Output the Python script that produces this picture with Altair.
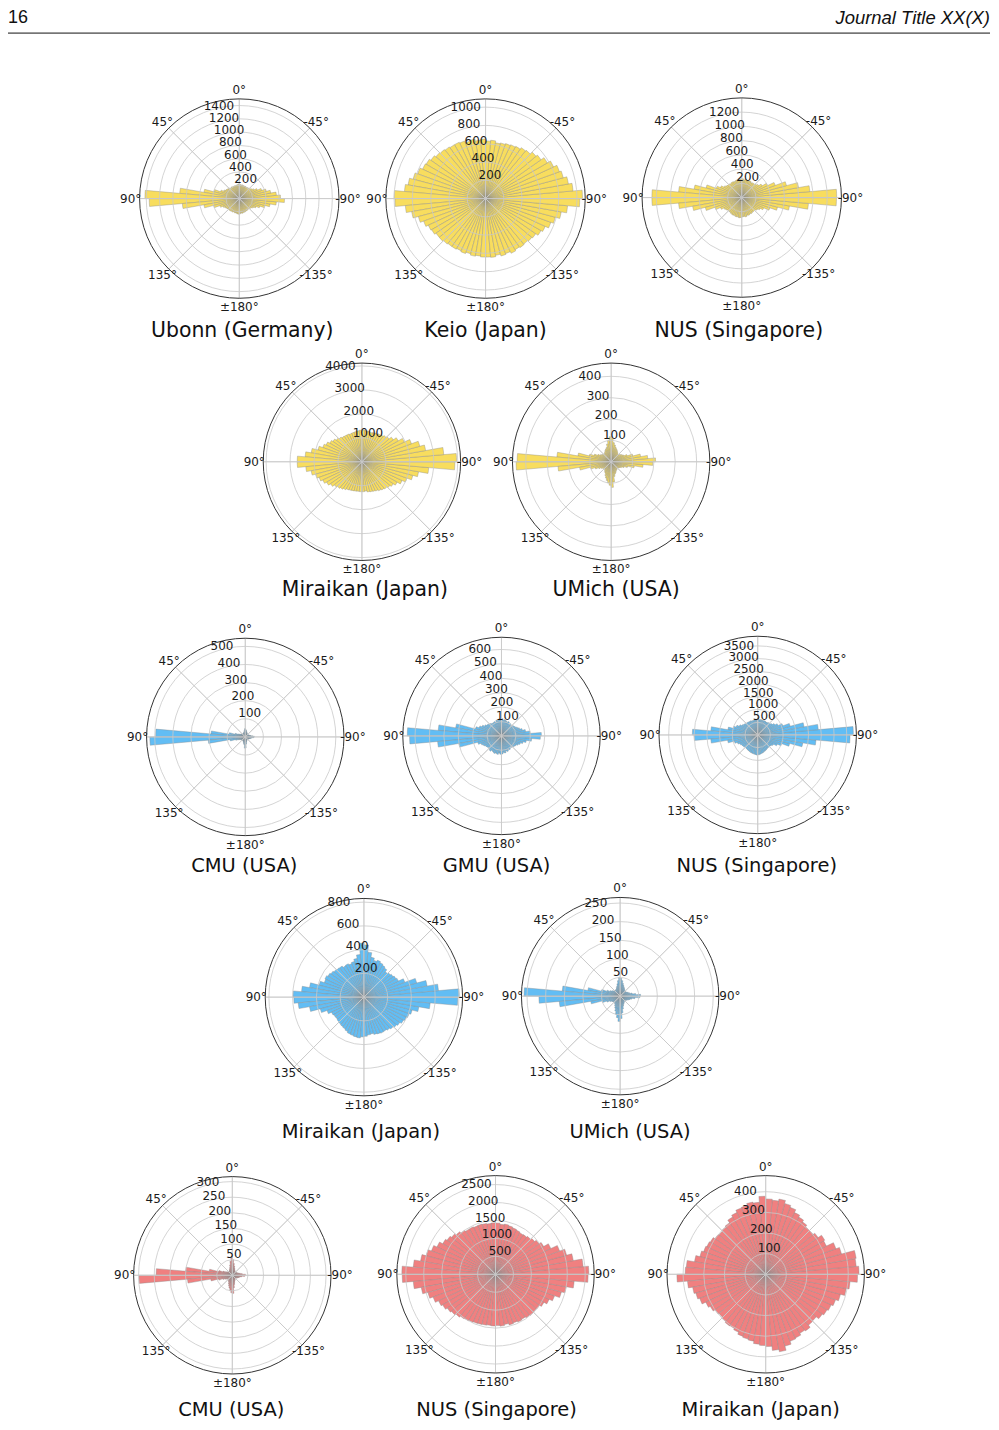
import math
import altair as alt
import pandas as pd

# ---------------- data ----------------
BIN_STARTS = list(range(-180, 180, 5))   # 72 bins of 5 degrees, angle counter-clockwise from top
BIN_W = 5

ubonn_yellow = [230,220,225,215,220,210,215,205,210,215,230,250,280,330,400,470,560,680,
                620,560,480,420,360,300,260,235,220,210,205,200,205,200,205,210,205,215,
                220,210,205,200,205,200,210,205,215,220,230,240,260,300,395,540,900,1420,
                1355,860,540,400,310,270,250,240,230,225,230,220,225,215,225,220,230,235]
keio_yellow = [640,645,630,650,640,660,645,655,650,660,670,700,720,760,790,840,900,1030,
               1060,960,920,880,860,820,780,740,720,690,680,660,650,640,630,620,640,630,
               650,640,660,650,670,680,680,690,700,710,730,750,760,790,820,860,890,1000,
               990,880,820,760,720,690,680,660,660,650,640,640,630,640,625,640,630,640]
nus_yellow = [270,265,275,260,265,255,260,250,255,260,275,300,340,420,520,680,940,1330,
              1333,960,810,650,500,400,330,290,270,260,255,250,260,250,255,260,250,265,
              260,255,250,255,245,250,255,250,255,260,270,290,330,380,520,680,890,1262,
              1262,890,700,530,400,330,290,275,265,260,265,270,275,270,280,275,285,280]
miraikan_yellow = [1250,1230,1280,1300,1320,1350,1400,1440,1480,1530,1600,1700,1850,2000,2200,2400,2800,3880,
                   3950,3430,2700,2500,2200,1950,1750,1600,1480,1430,1380,1350,1320,1300,1280,1300,1310,1330,
                   1320,1300,1280,1270,1260,1280,1290,1300,1350,1400,1480,1550,1650,1740,1900,2150,2380,2700,
                   2700,2350,2150,2000,1900,1800,1700,1600,1500,1450,1400,1350,1300,1280,1260,1250,1240,1250]
umich_yellow = [120,95,70,60,55,50,45,45,40,42,45,50,55,65,80,110,150,195,
                208,172,140,105,80,65,60,55,50,48,50,55,60,65,70,80,90,110,
                117,100,85,70,65,60,55,50,48,50,55,60,70,85,106,158,255,440,
                445,250,150,100,80,65,55,50,45,45,50,55,60,70,80,90,100,110]
cmu_blue = [60,40,30,25,22,20,20,18,20,18,20,20,22,25,28,32,38,48,
            50,40,32,28,24,22,20,20,18,18,20,20,22,25,28,32,38,44,
            46,38,30,26,24,22,22,20,22,24,25,28,32,40,58,90,190,495,
            527,205,85,55,40,32,28,25,24,22,24,25,26,28,32,38,45,62]
gmu_blue = [125,115,120,110,115,105,110,100,105,110,115,120,130,140,155,175,210,270,
            277,200,170,150,135,125,115,110,105,100,105,100,110,105,110,115,110,120,
            115,120,110,115,105,110,105,110,115,120,125,135,150,165,187,323,441,654,
            638,445,300,170,150,140,130,125,120,125,130,120,125,130,125,130,120,127]
nus_blue = [780,760,740,720,700,680,660,640,640,650,680,720,850,1000,1300,1800,2300,3630,
            3760,2390,1850,1320,1050,880,780,700,660,640,620,600,620,600,610,620,600,620,
            620,600,610,590,600,620,610,630,640,650,680,720,800,900,1000,1190,1850,2570,
            2500,1850,1200,950,850,780,740,720,700,690,700,710,720,740,750,760,770,790]
miraikan_blue = [330,320,315,325,330,335,332,340,350,360,370,385,395,405,420,470,560,790,
                 803,630,540,460,366,320,310,300,290,280,300,310,320,330,320,340,380,440,
                 455,360,330,310,300,310,305,320,323,330,340,350,362,355,390,465,527,597,
                 590,555,465,380,330,300,293,290,295,300,305,310,320,330,335,340,345,335]
umich_blue = [60,45,35,28,24,22,20,18,18,17,18,20,22,25,28,32,40,53,
              55,42,33,27,24,22,20,19,18,18,20,22,24,27,30,35,42,48,
              50,42,34,28,25,22,21,20,20,21,23,26,30,38,52,88,156,258,
              218,164,80,50,38,30,26,24,22,22,24,26,30,35,42,50,58,68]
cmu_red = [58,40,30,24,20,18,16,15,14,14,15,16,18,20,22,25,30,40,
           42,32,26,22,19,17,16,15,14,14,15,16,18,20,24,30,38,50,
           58,45,34,26,22,19,17,16,16,16,18,20,24,32,45,75,150,244,
           299,144,70,45,32,26,22,20,18,18,20,22,25,30,36,42,50,56]
nus_red = [1430,1450,1420,1460,1440,1470,1450,1480,1500,1490,1500,1560,1650,1750,1900,2000,2200,2580,
           2600,2450,2200,2050,1900,1700,1550,1480,1420,1380,1350,1340,1360,1380,1400,1420,1400,1430,
           1435,1420,1440,1450,1440,1460,1460,1500,1550,1600,1650,1700,1800,1900,2000,2120,2300,2610,
           2600,2300,2100,1950,1850,1750,1700,1640,1600,1560,1520,1500,1480,1460,1450,1440,1430,1440]
miraikan_red = [350,370,381,360,345,340,330,335,322,320,335,343,350,360,375,396,410,445,
                452,440,445,380,362,324,330,310,300,300,310,320,330,345,355,370,360,365,
                378,350,355,345,342,330,320,305,300,296,300,310,315,320,330,350,386,390,
                430,380,359,350,340,320,310,300,295,300,305,303,310,320,325,329,340,345]

titles = ["Ubonn (Germany)", "Keio (Japan)", "NUS (Singapore)", "Miraikan (Japan)", "UMich (USA)",
          "CMU (USA)", "GMU (USA)", "NUS (Singapore)", "Miraikan (Japan)", "UMich (USA)",
          "CMU (USA)", "NUS (Singapore)", "Miraikan (Japan)"]
series = [ubonn_yellow, keio_yellow, nus_yellow, miraikan_yellow, umich_yellow,
          cmu_blue, gmu_blue, nus_blue, miraikan_blue, umich_blue,
          cmu_red, nus_red, miraikan_red]
r_ticks = [[200, 400, 600, 800, 1000, 1200, 1400],
           [200, 400, 600, 800, 1000],
           [200, 400, 600, 800, 1000, 1200],
           [1000, 2000, 3000, 4000],
           [100, 200, 300, 400],
           [100, 200, 300, 400, 500],
           [100, 200, 300, 400, 500, 600],
           [500, 1000, 1500, 2000, 2500, 3000, 3500],
           [200, 400, 600, 800],
           [50, 100, 150, 200, 250],
           [50, 100, 150, 200, 250, 300],
           [500, 1000, 1500, 2000, 2500],
           [100, 200, 300, 400]]
r_max = [1500, 1090, 1400, 4120, 462, 545, 685, 3880, 831, 265, 316, 2750, 478]

ANGLE_TICKS = [0, 45, 90, 135, 180, -135, -90, -45]
ANGLE_LABELS = ["0°", "45°", "90°", "135°", "±180°", "-135°", "-90°", "-45°"]

# ---------------- layout / style ----------------
YELLOW = "#F8DD5E"
BLUE = "#62BDF4"
RED = "#F08080"
colors = [YELLOW] * 5 + [BLUE] * 5 + [RED] * 3

# page coordinates: (center x, center y, radius, title x, title y, title size)
layout = [
    (240, 197, 100, 243, 330, 20.5), (487, 197, 100, 487, 330, 20.5), (744, 196, 100, 741, 330, 20.5),
    (363, 461, 99, 366, 590, 20.5), (613, 461, 99, 618, 590, 20.5),
    (246, 737, 99, 245, 866, 19.5), (503, 736, 99, 498, 866, 19.5), (760, 735, 99, 759, 866, 19.5),
    (365, 998, 99, 362, 1133, 19.5), (622, 997, 99, 632, 1133, 19.5),
    (233, 1277, 99, 232, 1412, 19.5), (497, 1276, 99, 498, 1412, 19.5), (768, 1276, 99, 763, 1412, 19.5),
]
OFFX, OFFY = 8, 24
FONT = "DejaVu Sans"
GRID = "#c9c9c9"

layers = []
for k in range(len(titles)):
    cx, cy, R, tx, ty, tsize = layout[k]
    cx -= OFFX
    cy -= OFFY
    ts = alt.Scale(domain=[-180, 180], range=[3 * math.pi, math.pi])
    rs = alt.Scale(type="linear", domain=[0, r_max[k]], range=[0, R])
    pos = dict(x=alt.value(cx), y=alt.value(cy))

    bars = pd.DataFrame({"a0": BIN_STARTS, "a1": [a + BIN_W for a in BIN_STARTS], "v": series[k]})
    layers.append(alt.Chart(bars).mark_arc(fill=colors[k], stroke="#8a8a8a", strokeWidth=0.4).encode(
        theta=alt.Theta("a0:Q", scale=ts, stack=None), theta2=alt.Theta2("a1"),
        radius=alt.Radius("v:Q", scale=rs, stack=None), radius2=alt.value(0), **pos))

    rings = pd.DataFrame({"r": r_ticks[k], "t0": -180, "t1": 180})
    layers.append(alt.Chart(rings).mark_arc(fill="transparent", stroke=GRID, strokeWidth=0.8).encode(
        theta=alt.Theta("t0:Q", scale=ts, stack=None), theta2=alt.Theta2("t1"),
        radius=alt.Radius("r:Q", scale=rs, stack=None), **pos))

    spokes = pd.DataFrame({"a": ANGLE_TICKS, "r": r_max[k]})
    layers.append(alt.Chart(spokes).mark_arc(fill="transparent", stroke=GRID, strokeWidth=0.8).encode(
        theta=alt.Theta("a:Q", scale=ts, stack=None), theta2=alt.Theta2("a"),
        radius=alt.Radius("r:Q", scale=rs, stack=None), **pos))

    outer = pd.DataFrame({"r": [r_max[k]], "t0": [-180], "t1": [180]})
    layers.append(alt.Chart(outer).mark_arc(fill="transparent", stroke="#333333", strokeWidth=1).encode(
        theta=alt.Theta("t0:Q", scale=ts, stack=None), theta2=alt.Theta2("t1"),
        radius=alt.Radius("r:Q", scale=rs, stack=None), **pos))

    tl = pd.DataFrame({"r": r_ticks[k], "label": [str(t) for t in r_ticks[k]], "a": 22.5})
    layers.append(alt.Chart(tl).mark_text(align="left", baseline="bottom", font=FONT, fontSize=12,
                                           color="#1a1a1a").encode(
        theta=alt.Theta("a:Q", scale=ts, stack=None),
        radius=alt.Radius("r:Q", scale=rs, stack=None), text="label:N", **pos))

    al = pd.DataFrame({"a": ANGLE_TICKS, "label": ANGLE_LABELS})
    layers.append(alt.Chart(al).mark_text(align="center", baseline="middle", font=FONT, fontSize=12,
                                           color="#1a1a1a").encode(
        theta=alt.Theta("a:Q", scale=ts, stack=None),
        radius=alt.value(R + 9), text="label:N", **pos))

    tt = pd.DataFrame({"t": [titles[k]]})
    layers.append(alt.Chart(tt).mark_text(align="center", baseline="middle", font=FONT, fontSize=tsize,
                                           color="#111111").encode(
        text="t:N", x=alt.value(tx - OFFX), y=alt.value(ty - OFFY)))

# header
hdr = pd.DataFrame({"t": ["16"]})
layers.append(alt.Chart(hdr).mark_text(align="left", baseline="middle", font="Liberation Sans",
                                        fontSize=18, color="#111111").encode(
    text="t:N", x=alt.value(8 - OFFX), y=alt.value(15.5 - OFFY)))
hdr2 = pd.DataFrame({"t": ["Journal Title XX(X)"]})
layers.append(alt.Chart(hdr2).mark_text(align="right", baseline="middle", font="Liberation Sans",
                                         fontSize=18.5, fontStyle="italic", color="#111111").encode(
    text="t:N", x=alt.value(993 - OFFX), y=alt.value(15.5 - OFFY)))
layers.append(alt.Chart(pd.DataFrame({"k": [0]})).mark_rule(color="#111111", strokeWidth=1).encode(
    x=alt.value(6 - OFFX), x2=alt.value(993 - OFFX), y=alt.value(31 - OFFY)))

chart = alt.layer(*layers).resolve_scale(theta="independent", radius="independent").properties(
    width=986, height=1398,
    padding={"left": 0, "top": 16, "right": 0, "bottom": 0},
    autosize=alt.AutoSizeParams(type="none"),
).configure_view(strokeWidth=0)

chart.save("out.html", embed_options={"renderer": "svg", "actions": False})
